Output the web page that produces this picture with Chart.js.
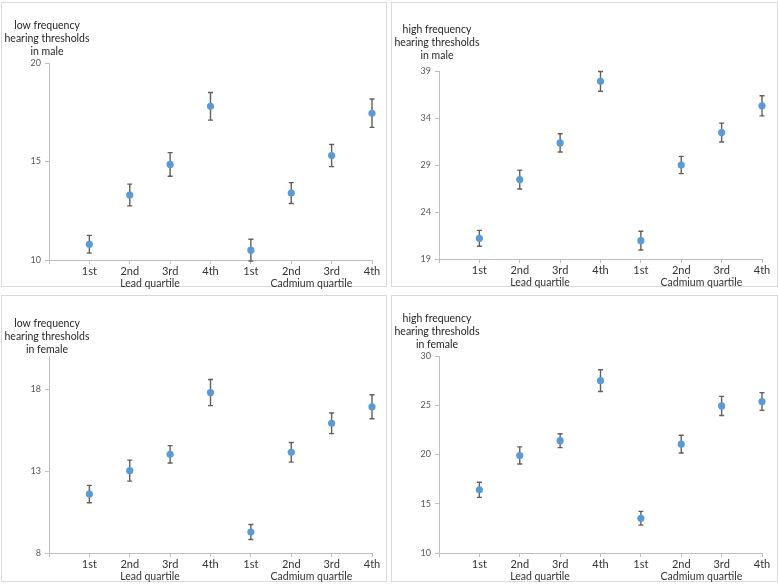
<!DOCTYPE html>
<html><head><meta charset="utf-8">
<script src="https://cdn.jsdelivr.net/npm/chart.js@4"></script>
<style>
html,body{margin:0;padding:0;background:#fff;}
body{width:778px;height:584px;position:relative;overflow:hidden;font-family:Lato,sans-serif;}
.frame{position:absolute;border:1px solid #d9d9d9;box-sizing:border-box;}
canvas{position:absolute;}
</style></head><body>
<div class="frame" style="left:1px;top:2px;width:386px;height:285px"></div>
<div class="frame" style="left:391px;top:2px;width:387px;height:285px"></div>
<div class="frame" style="left:1px;top:295px;width:386px;height:287px"></div>
<div class="frame" style="left:391px;top:295px;width:387px;height:287px"></div>
<canvas id="c1" width="388" height="292" style="left:0;top:0"></canvas>
<canvas id="c2" width="388" height="292" style="left:390px;top:0"></canvas>
<canvas id="c3" width="388" height="292" style="left:0;top:292px"></canvas>
<canvas id="c4" width="388" height="292" style="left:390px;top:292px"></canvas>
<script>
// ---- data ----
const categories = ['1st','2nd','3rd','4th','1st','2nd','3rd','4th'];
const groups = ['Lead quartile','Cadmium quartile'];
const groupSizes = [4,4];

const lowMaleMean  = [10.8, 13.3, 14.85, 17.8, 10.5, 13.4, 15.3, 17.45];
const lowMaleErr   = [0.45, 0.55, 0.6, 0.7, 0.55, 0.53, 0.56, 0.72];
const lowMaleTicks = [10, 15, 20];
const lowMaleTitle = ['low frequency','hearing thresholds','in male'];

const highMaleMean  = [21.2, 27.45, 31.35, 37.9, 20.95, 29.0, 32.45, 35.3];
const highMaleErr   = [0.85, 1.0, 0.97, 1.05, 1.0, 0.92, 1.0, 1.07];
const highMaleTicks = [19, 24, 29, 34, 39];
const highMaleTitle = ['high frequency','hearing thresholds','in male'];

const lowFemaleMean  = [11.6, 13.03, 14.03, 17.8, 9.28, 14.15, 15.92, 16.93];
const lowFemaleErr   = [0.53, 0.64, 0.53, 0.8, 0.46, 0.6, 0.63, 0.73];
const lowFemaleTicks = [8, 13, 18];
const lowFemaleTitle = ['low frequency','hearing thresholds','in female'];

const highFemaleMean  = [16.42, 19.9, 21.4, 27.5, 13.53, 21.05, 24.93, 25.38];
const highFemaleErr   = [0.77, 0.87, 0.7, 1.1, 0.7, 0.9, 0.97, 0.9];
const highFemaleTicks = [10, 15, 20, 25, 30];
const highFemaleTitle = ['high frequency','hearing thresholds','in female'];

// ---- group label positions (centre of each group's categories) ----
const groupCentres = [];
{ let start = 1; groupSizes.forEach(n => { groupCentres.push(start + (n - 1) / 2); start += n; }); }

const errorBars = {
  id: 'errorBars',
  beforeDatasetsDraw(chart) {
    const ctx = chart.ctx, xs = chart.scales.x, ys = chart.scales.y;
    ctx.save();
    ctx.strokeStyle = '#606060';
    ctx.lineWidth = 1.4;
    chart.data.datasets[0].data.forEach(p => {
      const x = xs.getPixelForValue(p.x);
      const y1 = ys.getPixelForValue(p.y + p.e);
      const y2 = ys.getPixelForValue(p.y - p.e);
      ctx.beginPath();
      ctx.moveTo(x, y1); ctx.lineTo(x, y2);
      ctx.moveTo(x - 2.5, y1); ctx.lineTo(x + 2.5, y1);
      ctx.moveTo(x - 2.5, y2); ctx.lineTo(x + 2.5, y2);
      ctx.stroke();
    });
    ctx.restore();
  }
};

const sideTitle = {
  id: 'sideTitle',
  afterDraw(chart, args, opts) {
    const ctx = chart.ctx;
    ctx.save();
    ctx.font = '10.5px Lato, sans-serif';
    ctx.fillStyle = '#262626';
    ctx.textAlign = 'center';
    ctx.textBaseline = 'middle';
    const cx = chart.chartArea.left - 2;
    opts.lines.forEach((t, i) => ctx.fillText(t, cx, opts.top + i * 13));
    ctx.restore();
  }
};

function makePanel(id, means, errs, ticks, yMin, yMax, title, titleTop, pad) {
  const pts = means.map((v, i) => ({ x: i + 1, y: v, e: errs[i] }));
  new Chart(document.getElementById(id), {
    type: 'scatter',
    data: { datasets: [{
      data: pts,
      backgroundColor: '#5b9bd5',
      borderColor: '#5b9bd5',
      pointRadius: 3.6,
      pointHoverRadius: 3.6,
      borderWidth: 0,
      clip: false
    }]},
    options: {
      responsive: false,
      animation: false,
      devicePixelRatio: 1,
      layout: { padding: pad },
      plugins: {
        legend: { display: false },
        tooltip: { enabled: false },
        sideTitle: { lines: title, top: titleTop }
      },
      scales: {
        x: {
          type: 'linear', position: 'bottom', weight: 0,
          min: 0, max: categories.length,
          afterBuildTicks: s => { s.ticks = categories.map((c, i) => ({ value: i })).concat([{ value: categories.length }]); },
          afterFit: s => { s.height = 16; },
          ticks: {
            autoSkip: false, maxRotation: 0, padding: 1,
            color: '#333', font: { family: 'Lato', size: 11 },
            callback: v => (v >= 1 ? categories[v - 1] : '')
          },
          grid: { display: true, drawOnChartArea: false, drawTicks: true, tickLength: 4, color: '#bfbfbf' },
          border: { display: true, color: '#bfbfbf', width: 1 }
        },
        x2: {
          type: 'linear', position: 'bottom', weight: 1,
          min: 0, max: categories.length,
          afterBuildTicks: s => { s.ticks = groupCentres.map(v => ({ value: v })); },
          afterFit: s => { s.height = 14; },
          ticks: {
            autoSkip: false, maxRotation: 0, padding: 1.5,
            color: '#333', font: { family: 'Lato', size: 10.5 },
            callback: (v, i) => groups[i]
          },
          grid: { display: false, drawTicks: false, tickLength: 0 },
          border: { display: false }
        },
        y: {
          type: 'linear', position: 'left',
          min: yMin, max: yMax,
          afterBuildTicks: s => { s.ticks = ticks.map(v => ({ value: v })); },
          afterFit: s => { s.width = 49; },
          ticks: { padding: 4, color: '#595959', font: { family: 'Lato', size: 9 } },
          grid: { display: true, drawOnChartArea: false, drawTicks: true, tickLength: 4, color: '#bfbfbf' },
          border: { display: true, color: '#bfbfbf', width: 1 }
        }
      }
    },
    plugins: [errorBars, sideTitle]
  });
}

makePanel('c1', lowMaleMean, lowMaleErr, lowMaleTicks, 10, 20, lowMaleTitle, 26,
  { left: 0, top: 63, right: 16, bottom: 2 });
makePanel('c2', highMaleMean, highMaleErr, highMaleTicks, 19, 39, highMaleTitle, 30,
  { left: 0, top: 71, right: 16, bottom: 3 });
makePanel('c3', lowFemaleMean, lowFemaleErr, lowFemaleTicks, 8, 20, lowFemaleTitle, 32,
  { left: 0, top: 64.5, right: 16, bottom: 1 });
makePanel('c4', highFemaleMean, highFemaleErr, highFemaleTicks, 10, 30, highFemaleTitle, 27,
  { left: 0, top: 64, right: 16, bottom: 1 });
</script>
</body></html>
